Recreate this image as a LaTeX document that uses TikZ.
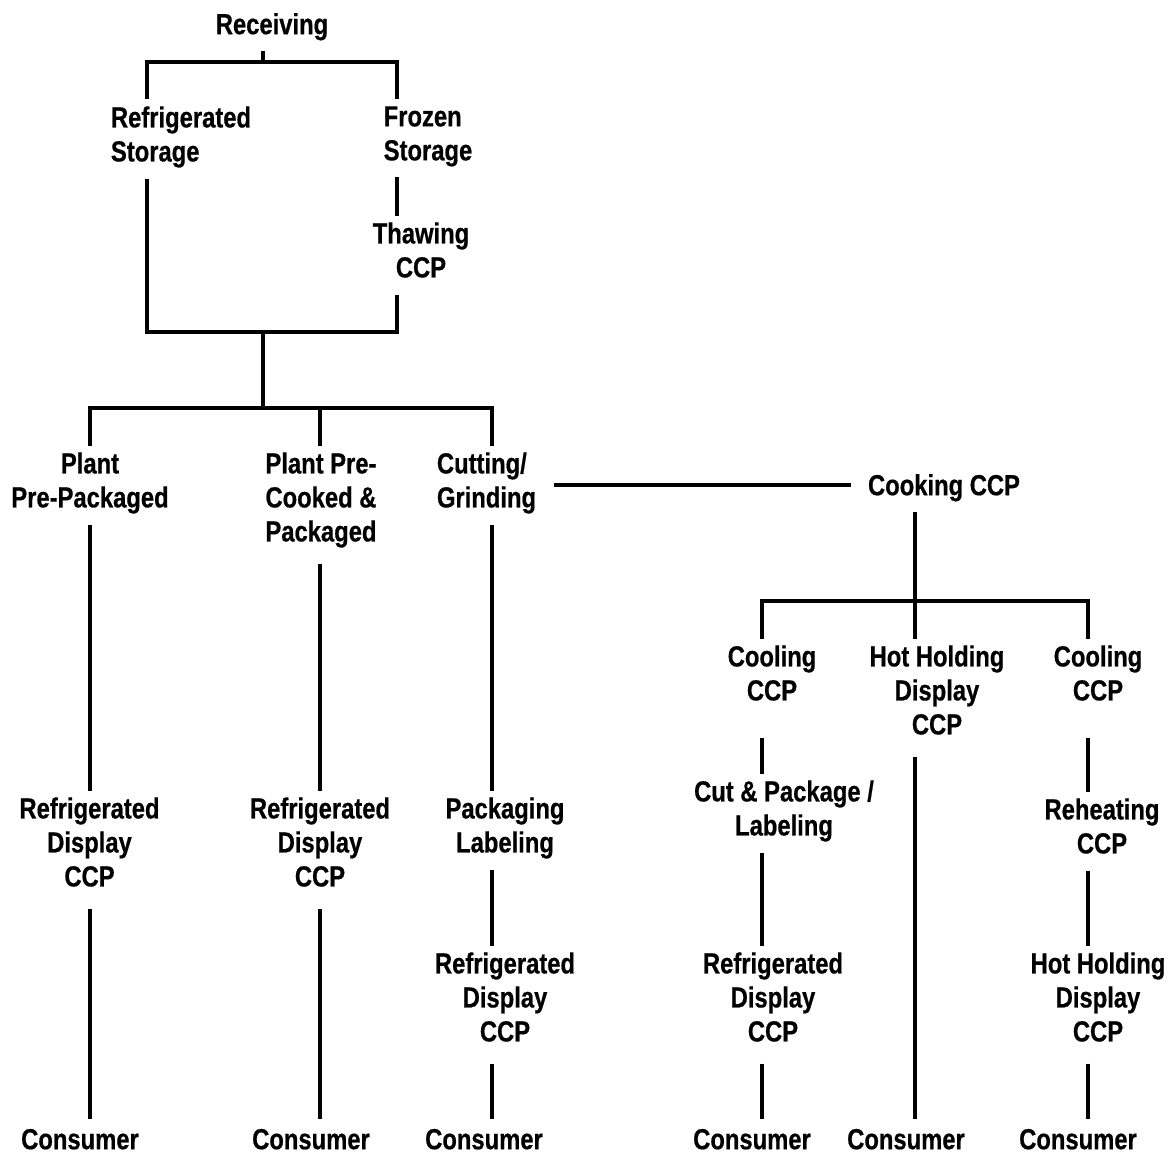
\documentclass[tikz,border=0pt]{standalone}
\usepackage{fontspec}
\newfontfamily\flowfont{Liberation Sans}[FakeStretch=0.82, FakeBold=0.6]
\usetikzlibrary{positioning}

\begin{document}
\begin{tikzpicture}[x=1pt, y=-1pt, line width=3.8pt,
          st/.style={anchor=north, align=center, inner xsep=5pt, inner ysep=5pt,
                     font=\flowfont\bfseries\fontsize{29}{34}\selectfont,
                     execute at begin node=\strut, execute at end node=\strut},
          stl/.style={st, align=left}]
        \useasboundingbox (0,0) rectangle (1173,1153);
        % columns and junctions
        \coordinate (xa) at (147,0);
        \coordinate (xb) at (397,0);
        \coordinate (c1) at (90,0);
        \coordinate (c2) at (320,0);
        \coordinate (c3) at (492,0);
        \coordinate (d1) at (762,0);
        \coordinate (d3) at (1088,0);
        \coordinate (jr) at (263,62);
        \coordinate (js) at (263,332);
        \coordinate (jp) at (263,408);
        \coordinate (jc) at (915,601);
        \coordinate (jk) at (0,485);
        % steps
        \node[st] (recv) at (272,3.5) {Receiving};
        \node[stl] (rs) at (181,99.5) {Refrigerated\\Storage};
        \node[stl] (fs) at (428,99.5) {Frozen\\Storage};
        \node[st] (th) at (421,215.5) {Thawing\\CCP};
        \node[st] (pp) at (90,445.5) {Plant\\Pre-Packaged};
        \node[stl] (pc) at (321,445.5) {Plant Pre-\\Cooked \&\\Packaged};
        \node[stl] (cg) at (486.5,445.5) {Cutting/\\Grinding};
        \node[st] (ck) at (944,464.5) {Cooking CCP};
        \node[st] (cl1) at (772,638.5) {Cooling\\CCP};
        \node[st] (hh) at (937,638.5) {Hot Holding\\Display\\CCP};
        \node[st] (cl2) at (1098,638.5) {Cooling\\CCP};
        \node[st] (rd1) at (89.5,790.5) {Refrigerated\\Display\\CCP};
        \node[st] (rd2) at (320,790.5) {Refrigerated\\Display\\CCP};
        \node[st] (pl) at (505,790.5) {Packaging\\Labeling};
        \node[st] (cp) at (784,773.5) {Cut \& Package /\\Labeling};
        \node[st] (rh) at (1102,791.5) {Reheating\\CCP};
        \node[st] (rd3) at (505,945.5) {Refrigerated\\Display\\CCP};
        \node[st] (rd4) at (773,945.5) {Refrigerated\\Display\\CCP};
        \node[st] (hd) at (1098,945.5) {Hot Holding\\Display\\CCP};
        \node[st] (cs1) at (80,1118.5) {Consumer};
        \node[st] (cs2) at (311,1118.5) {Consumer};
        \node[st] (cs3) at (484,1118.5) {Consumer};
        \node[st] (cs4) at (752,1118.5) {Consumer};
        \node[st] (cs5) at (906,1118.5) {Consumer};
        \node[st] (cs6) at (1078,1118.5) {Consumer};
        % receiving and storage
        \draw (recv.south -| jr) -- (jr);
        \draw (rs.north -| xa) |- (jr) -| (fs.north -| xb);
        \draw (fs.south -| xb) -- (th.north -| xb);
        \draw (rs.south -| xa) |- (js) -| (th.south -| xb);
        \draw (js) -- (jp);
        % products
        \draw (pp.north -| c1) |- (jp) -| (cg.north -| c3);
        \draw (jp -| c2) -- (pc.north -| c2);
        \draw (pp.south -| c1) -- (rd1.north -| c1);
        \draw[shorten <=5pt] (pc.south -| c2) -- (rd2.north -| c2);
        \draw (cg.south -| c3) -- (pl.north -| c3);
        \draw[shorten <=5pt] (rd1.south -| c1) -- (cs1.north -| c1);
        \draw[shorten <=5pt] (rd2.south -| c2) -- (cs2.north -| c2);
        \draw (pl.south -| c3) -- (rd3.north -| c3);
        \draw[shorten <=5pt] (rd3.south -| c3) -- (cs3.north -| c3);
        % cooking branch
        \draw[shorten <=11pt, shorten >=10pt] (jk -| cg.east) -- (jk -| ck.west);
        \draw (ck.south -| jc) -- (jc);
        \draw (cl1.north -| d1) |- (jc) -| (cl2.north -| d3);
        \draw (jc) -- (hh.north -| jc);
        \draw[shorten <=20pt] (cl1.south -| d1) -- (cp.north -| d1);
        \draw (cp.south -| d1) -- (rd4.north -| d1);
        \draw[shorten <=5pt] (rd4.south -| d1) -- (cs4.north -| d1);
        \draw[shorten <=5pt] (hh.south -| jc) -- (cs5.north -| jc);
        \draw[shorten <=20pt] (cl2.south -| d3) -- (rh.north -| d3);
        \draw (rh.south -| d3) -- (hd.north -| d3);
        \draw[shorten <=5pt] (hd.south -| d3) -- (cs6.north -| d3);
      \end{tikzpicture}
\end{document}
